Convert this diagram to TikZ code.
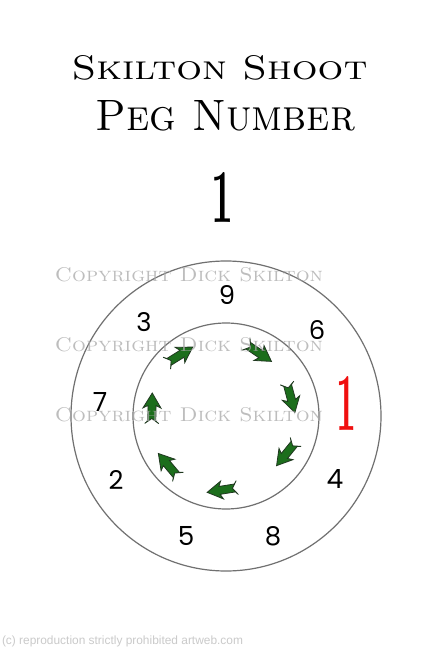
\documentclass[tikz,border=0pt]{standalone}
\usepackage{fontspec}
\usepackage{graphicx}
\newfontfamily\numfont{Poppins}
\newfontfamily\footfont{Liberation Sans}
\definecolor{ringgray}{HTML}{707070}
\definecolor{arrgreen}{HTML}{1C6E1C}
\definecolor{arredge}{HTML}{203820}
\definecolor{wmgray}{HTML}{A8A8A8}
\definecolor{footgray}{HTML}{CACACA}
\definecolor{pegred}{HTML}{F01010}
\newcommand{\pegdig}[1]{\resizebox{!}{19pt}{\numfont #1}}
\tikzset{
  ring/.style={draw=ringgray, line width=1.2pt},
  txt/.style={inner sep=0pt, outer sep=0pt},
  wm/.style={txt, text=wmgray, opacity=0.75},
  garrow/.pic={
    \filldraw[fill=arrgreen, draw=arredge, line width=0.8pt, line join=miter]
      (15,0) -- (0,9) -- (2.5,4) -- (-13,4) -- (-15.5,7) -- (-10.5,0)
      -- (-15.5,-7) -- (-13,-4) -- (2.5,-4) -- (0,-9) -- cycle;
  }
}
\begin{document}
\begin{tikzpicture}[x=1pt,y=-1pt]
\useasboundingbox (0,0) rectangle (424,650);
\fill[white] (0,0) rectangle (424,650);

% titles
\node[txt] (t1) at (219.5,67.5) {\resizebox{296pt}{24pt}{\textsc{Skilton Shoot}}};
\node[txt] (t2) at (225.5,115.5) {\resizebox{259pt}{30pt}{\textsc{Peg Number}}};
\node[txt] (big1) at (222,197) {\resizebox{22pt}{50pt}{\bfseries 1}};

% circles
\coordinate (c) at (226,416);
\draw[ring] (c) circle (155);
\draw[ring] (c) circle (93);

% arrows
\pic[rotate=32]    at (180,355) {garrow};
\pic[rotate=-34]   at (259,353) {garrow};
\pic[rotate=-75]   at (291,398) {garrow};
\pic[rotate=-129]  at (286,454) {garrow};
\pic[rotate=-171]  at (222,490) {garrow};
\pic[rotate=130]   at (168,465) {garrow};
\pic[rotate=89]    at (152,408) {garrow};

% peg numbers
\node[txt] (n9) at (227,295) {\pegdig{9}};
\node[txt] (n3) at (144,322) {\pegdig{3}};
\node[txt] (n6) at (317,330) {\pegdig{6}};
\node[txt] (n7) at (100,402) {\pegdig{7}};
\node[txt] (n2) at (116,480) {\pegdig{2}};
\node[txt] (n5) at (186,536) {\pegdig{5}};
\node[txt] (n8) at (273,536) {\pegdig{8}};
\node[txt] (n4) at (335,479) {\pegdig{4}};

\node[txt, text=pegred] (red1) at (346,403) {\resizebox{20pt}{54pt}{\bfseries 1}};

% watermark
\node[wm] (w1) at (189,275) {\resizebox{268pt}{14pt}{\textsc{Copyright Dick Skilton}}};
\node[wm] (w2) at (189,345) {\resizebox{268pt}{14pt}{\textsc{Copyright Dick Skilton}}};
\node[wm] (w3) at (189,415) {\resizebox{268pt}{14pt}{\textsc{Copyright Dick Skilton}}};

% footer
\node[txt, text=footgray, anchor=west] (foot) at (2,641) {\resizebox{241pt}{!}{\footfont (c) reproduction strictly prohibited artweb.com}};
\end{tikzpicture}
\end{document}
